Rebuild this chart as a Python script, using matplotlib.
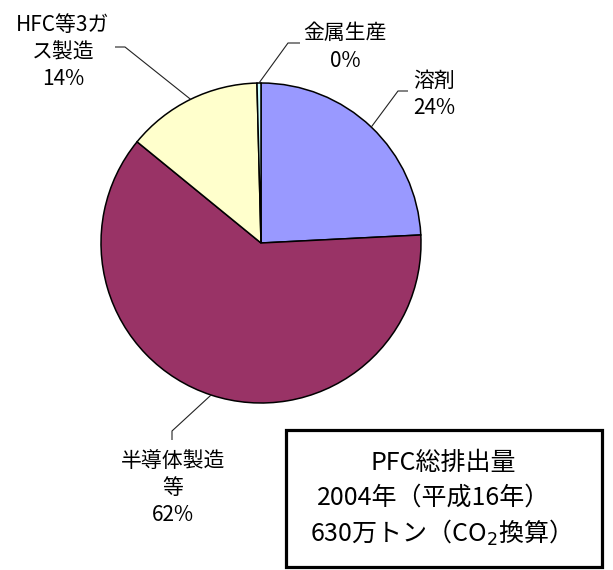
import numpy as np
import matplotlib
matplotlib.use("Agg")
import matplotlib.pyplot as plt
from matplotlib.patches import Rectangle

plt.rcParams['font.family'] = ['Noto Sans CJK JP', 'DejaVu Sans']

# data (shares of PFC emissions, %)
labels = ['溶剤', '半導体製造\n等', 'HFC等3ガ\nス製造', '金属生産']
values = [24.2, 61.7, 13.7, 0.4]
pct_text = ['24%', '62%', '14%', '0%']
colors = ['#9999FF', '#993366', '#FFFFCC', '#CCFFFF']

W, H = 613, 570
fig = plt.figure(figsize=(W / 100, H / 100), dpi=100)
ax = fig.add_axes([0, 0, 1, 1])

def py(y):  # pixel-from-top -> data y
    return H - y

cx, cy, r = 261, py(243), 160
wedges, _ = ax.pie(values, colors=colors, startangle=90, counterclock=False,
                   center=(cx, cy), radius=r, frame=True,
                   wedgeprops=dict(edgecolor='black', linewidth=1.1))
ax.set_xlim(0, W)
ax.set_ylim(0, H)
ax.set_aspect('equal')
ax.axis('off')

# label layout: leader elbow, leader end, text center (pixels from top-left)
layout = [
    dict(elbow=(398, 91), end=(408, 91), text=(434, 94)),
    dict(elbow=(172, 431), end=(172, 440), text=(173, 488)),
    dict(elbow=(125, 47), end=(115, 47), text=(63, 52)),
    dict(elbow=(288, 43), end=(300, 43), text=(345, 47)),
]

for w, lab, pct, lay in zip(wedges, labels, pct_text, layout):
    mid = np.deg2rad((w.theta1 + w.theta2) / 2)
    x0, y0 = cx + r * np.cos(mid), cy + r * np.sin(mid)
    ex, ey = lay['elbow']
    fx, fy = lay['end']
    ax.plot([x0, ex, fx], [y0, py(ey), py(fy)], color='#222222', lw=0.8,
            solid_capstyle='butt')
    tx, ty = lay['text']
    ax.text(tx, py(ty), lab + '\n' + pct, ha='center', va='center',
            fontsize=15, linespacing=1.3, color='black')

# summary box
ax.add_patch(Rectangle((286, py(567)), 316, 137, facecolor='white',
                       edgecolor='black', linewidth=2.3))
ax.text(443, py(463), 'PFC総排出量', ha='center', va='center', fontsize=18)
ax.text(434, py(498), '2004年（平成16年）', ha='center', va='center', fontsize=18)
ax.text(434, py(533), '630万トン（CO$_2$換算）', ha='center', va='center', fontsize=18)

fig.savefig('out.png', dpi=100)
